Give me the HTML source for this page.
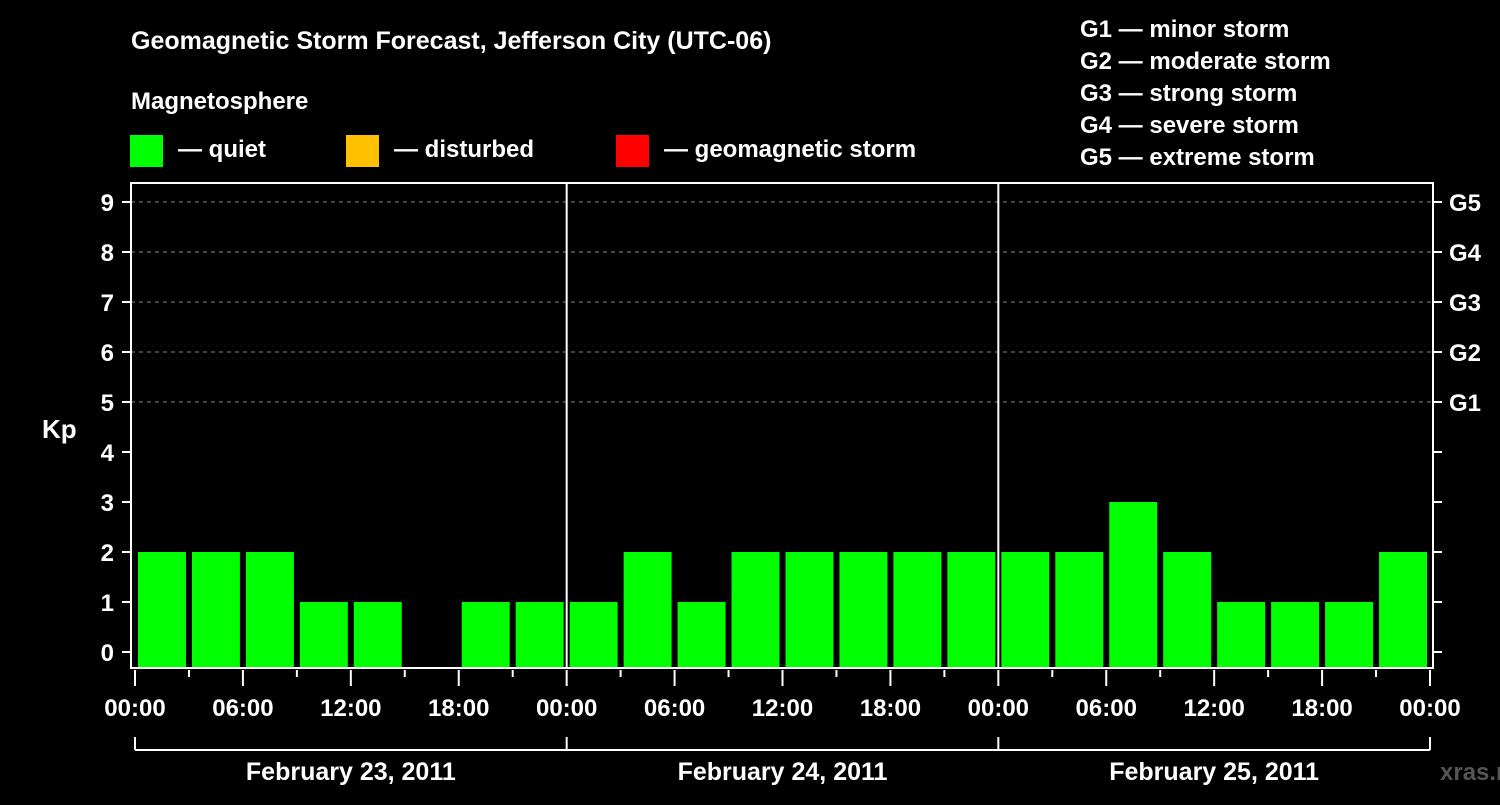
<!DOCTYPE html>
<html><head><meta charset="utf-8"><style>
body{margin:0;background:#000;width:1500px;height:800px;overflow:hidden}
svg text{font-family:"Liberation Sans",sans-serif;font-weight:bold;fill:#fff}
</style></head><body>
<svg id="c" width="1500" height="800">
<text x="131" y="49" font-size="25">Geomagnetic Storm Forecast, Jefferson City (UTC-06)</text>
<text x="131" y="109" font-size="24">Magnetosphere</text>
<g><rect x="130" y="135" width="33" height="32" fill="#00ff00"/><text x="178" y="157" font-size="24">— quiet</text></g>
<g><rect x="346" y="135" width="33" height="32" fill="#ffc000"/><text x="394" y="157" font-size="24">— disturbed</text></g>
<g><rect x="616" y="135" width="33" height="32" fill="#ff0000"/><text x="664" y="157" font-size="24">— geomagnetic storm</text></g>
<g font-size="24">
<text x="1080" y="37">G1 — minor storm</text>
<text x="1080" y="69">G2 — moderate storm</text>
<text x="1080" y="101">G3 — strong storm</text>
<text x="1080" y="133">G4 — severe storm</text>
<text x="1080" y="165">G5 — extreme storm</text>
</g>
<text x="42" y="438" font-size="26">Kp</text>
<text x="1440" y="780" font-size="24" style="fill:#555">xras.ru</text>
<g id="grid"></g><g id="bars"></g><g id="axes"></g>
</svg>
<script>
const values = [2,2,2,1,1,0,1,1, 1,2,1,2,2,2,2,2, 2,2,3,2,1,1,1,2];
const yTicks = [0,1,2,3,4,5,6,7,8,9];
const gLabels = ["G1","G2","G3","G4","G5"];
const timeLabels = ["00:00","06:00","12:00","18:00","00:00","06:00","12:00","18:00","00:00","06:00","12:00","18:00","00:00"];
const dayLabels = ["February 23, 2011","February 24, 2011","February 25, 2011"];

const NS="http://www.w3.org/2000/svg";
const X0=135,X1=1430,L=131,R=1433,T=183,B=668;
const slot=(X1-X0)/values.length;
const xs=i=>X0+i*slot;
const ys=v=>652-v*50;
function mk(tag,attrs,parent,txt){const e=document.createElementNS(NS,tag);for(const k in attrs)e.setAttribute(k,attrs[k]);if(txt!==undefined)e.textContent=txt;document.getElementById(parent).appendChild(e);return e;}
// grid
yTicks.forEach(v=>{
 if(v>=5){const g=mk('line',{x1:L,x2:R,y1:ys(v),y2:ys(v),stroke:'#888','stroke-dasharray':'4,4','stroke-width':1},'grid');
 
 }
});
// bars
values.forEach((v,i)=>{
 if(v<=0)return;
 const top=ys(v);
 const r=mk('rect',{x:xs(i)+3,y:top,width:slot-6,height:667-top,fill:'#00ff00'},'bars');
 
 
});
// axes frame
const fr=mk('rect',{x:L,y:T,width:R-L,height:B-T,fill:'none',stroke:'#fff','stroke-width':2},'axes');


[1,2].forEach(d=>{const l=mk('line',{x1:xs(d*8),x2:xs(d*8),y1:T,y2:B,stroke:'#fff','stroke-width':2},'axes');
 
 });
yTicks.forEach(v=>{
 mk('line',{x1:122,x2:L,y1:ys(v),y2:ys(v),stroke:'#fff','stroke-width':2},'axes');
 mk('line',{x1:R,x2:1442,y1:ys(v),y2:ys(v),stroke:'#fff','stroke-width':2},'axes');
 const t=mk('text',{x:114,y:ys(v)+9,'font-size':24,'text-anchor':'end'},'axes',String(v));
 
 
});
gLabels.forEach((g,i)=>{
 const t=mk('text',{x:1449,y:ys(5+i)+9,'font-size':24},'axes',g);
 
 
});
for(let i=0;i<=values.length;i++){
 const major=i%2===0;
 mk('line',{x1:xs(i),x2:xs(i),y1:670,y2:major?686:677,stroke:'#fff','stroke-width':2},'axes');
}
timeLabels.forEach((s,i)=>{
 const t=mk('text',{x:xs(i*2),y:716,'font-size':24,'text-anchor':'middle'},'axes',s);
 
 
});
mk('line',{x1:X0,x2:X1,y1:750,y2:750,stroke:'#fff','stroke-width':2},'axes');
[0,8,16,24].forEach(i=>mk('line',{x1:xs(i),x2:xs(i),y1:737,y2:750,stroke:'#fff','stroke-width':2},'axes'));
dayLabels.forEach((s,d)=>{
 const t=mk('text',{x:(xs(d*8)+xs(d*8+8))/2,y:780,'font-size':25,'text-anchor':'middle'},'axes',s);
 
 
});
</script>
</body></html>
